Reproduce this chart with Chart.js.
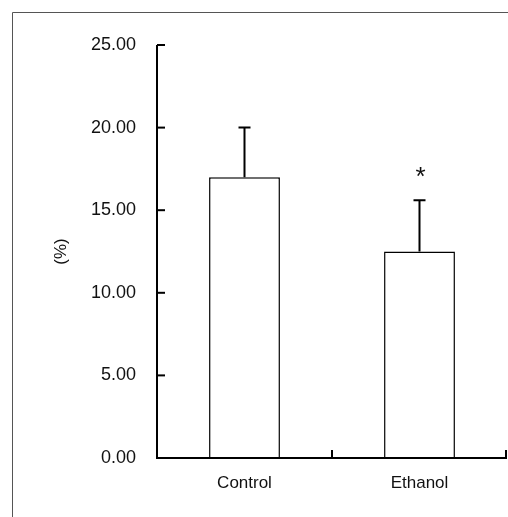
<!DOCTYPE html>
<html>
<head>
<meta charset="utf-8">
<script src="https://cdn.jsdelivr.net/npm/chart.js@4"></script>
<style>
  html, body { margin: 0; padding: 0; background: #fff; }
  canvas { display: block; }
</style>
</head>
<body>
<canvas id="c" width="508" height="517"></canvas>
<script>
const categories = ['Control', 'Ethanol'];
const means = [17.0, 12.5];
const sds = [3.0, 3.1];
const marks = ['', '*'];
const yTicks = [0, 5, 10, 15, 20, 25];
const yTitle = '(%)';

const FONT = '"Liberation Sans", Arial, sans-serif';
const TEXT = '#111';

const decor = {
  id: 'decor',
  afterDatasetsDraw(chart) {
    const ctx = chart.ctx;
    const x = chart.scales.x, y = chart.scales.y;
    const a = chart.chartArea;
    ctx.save();
    // frame
    ctx.strokeStyle = '#555';
    ctx.lineWidth = 1;
    ctx.beginPath();
    ctx.moveTo(12.5, 517); ctx.lineTo(12.5, 12.5); ctx.lineTo(508, 12.5);
    ctx.stroke();

    ctx.strokeStyle = '#000';
    ctx.lineWidth = 2;
    ctx.lineCap = 'butt';
    // y axis
    ctx.beginPath();
    ctx.moveTo(a.left, y.getPixelForValue(25));
    ctx.lineTo(a.left, a.bottom + 1);
    ctx.stroke();
    // y ticks inward
    yTicks.forEach(v => {
      const py = y.getPixelForValue(v);
      ctx.beginPath();
      ctx.moveTo(a.left, py); ctx.lineTo(a.left + 8, py);
      ctx.stroke();
    });
    // x axis
    const y0 = y.getPixelForValue(0);
    ctx.beginPath();
    ctx.moveTo(a.left - 1, y0); ctx.lineTo(a.right, y0);
    ctx.stroke();
    // x ticks at category boundaries
    for (let i = 0; i < categories.length; i++) {
      let bx;
      if (i < categories.length - 1) bx = (x.getPixelForValue(i) + x.getPixelForValue(i + 1)) / 2;
      else bx = a.right - 1;
      ctx.beginPath();
      ctx.moveTo(bx, y0); ctx.lineTo(bx, y0 - 8);
      ctx.stroke();
    }
    // error bars + marks
    const meta = chart.getDatasetMeta(0);
    meta.data.forEach((bar, i) => {
      const top = y.getPixelForValue(means[i] + sds[i]);
      const base = y.getPixelForValue(means[i]);
      ctx.beginPath();
      ctx.moveTo(bar.x, base); ctx.lineTo(bar.x, top);
      ctx.moveTo(bar.x - 6, top); ctx.lineTo(bar.x + 6, top);
      ctx.stroke();
      if (marks[i]) {
        ctx.fillStyle = TEXT;
        ctx.font = '26px ' + FONT;
        ctx.textAlign = 'center';
        ctx.textBaseline = 'alphabetic';
        ctx.fillText(marks[i], bar.x + 1, top - 15);
      }
    });
    ctx.restore();
  }
};

new Chart(document.getElementById('c'), {
  type: 'bar',
  data: {
    labels: categories,
    datasets: [{
      data: means,
      backgroundColor: '#fff',
      borderColor: '#000',
      borderWidth: 1.5,
      barPercentage: 0.405,
      categoryPercentage: 1.0
    }]
  },
  options: {
    responsive: false,
    animation: false,
    devicePixelRatio: 1,
    layout: { padding: { left: 51, right: 1, top: 45, bottom: 0 } },
    plugins: { legend: { display: false }, tooltip: { enabled: false } },
    scales: {
      x: {
        grid: { display: false, drawTicks: false },
        border: { display: false },
        ticks: { color: TEXT, font: { family: FONT, size: 17 }, padding: 15, maxRotation: 0 },
        afterFit(s) { s.height = 59; }
      },
      y: {
        min: 0, max: 25,
        afterBuildTicks(s) { s.ticks = yTicks.map(v => ({ value: v })); },
        grid: { display: false, drawTicks: false },
        border: { display: false },
        ticks: {
          color: TEXT, font: { family: FONT, size: 18 }, padding: 21,
          callback: v => Number(v).toFixed(2)
        },
        title: {
          display: true, text: yTitle, color: TEXT,
          font: { family: FONT, size: 17 }, padding: { top: 0, bottom: 0 }
        },
        afterFit(s) { s.width = 106; }
      }
    }
  },
  plugins: [decor]
});
</script>
</body>
</html>
